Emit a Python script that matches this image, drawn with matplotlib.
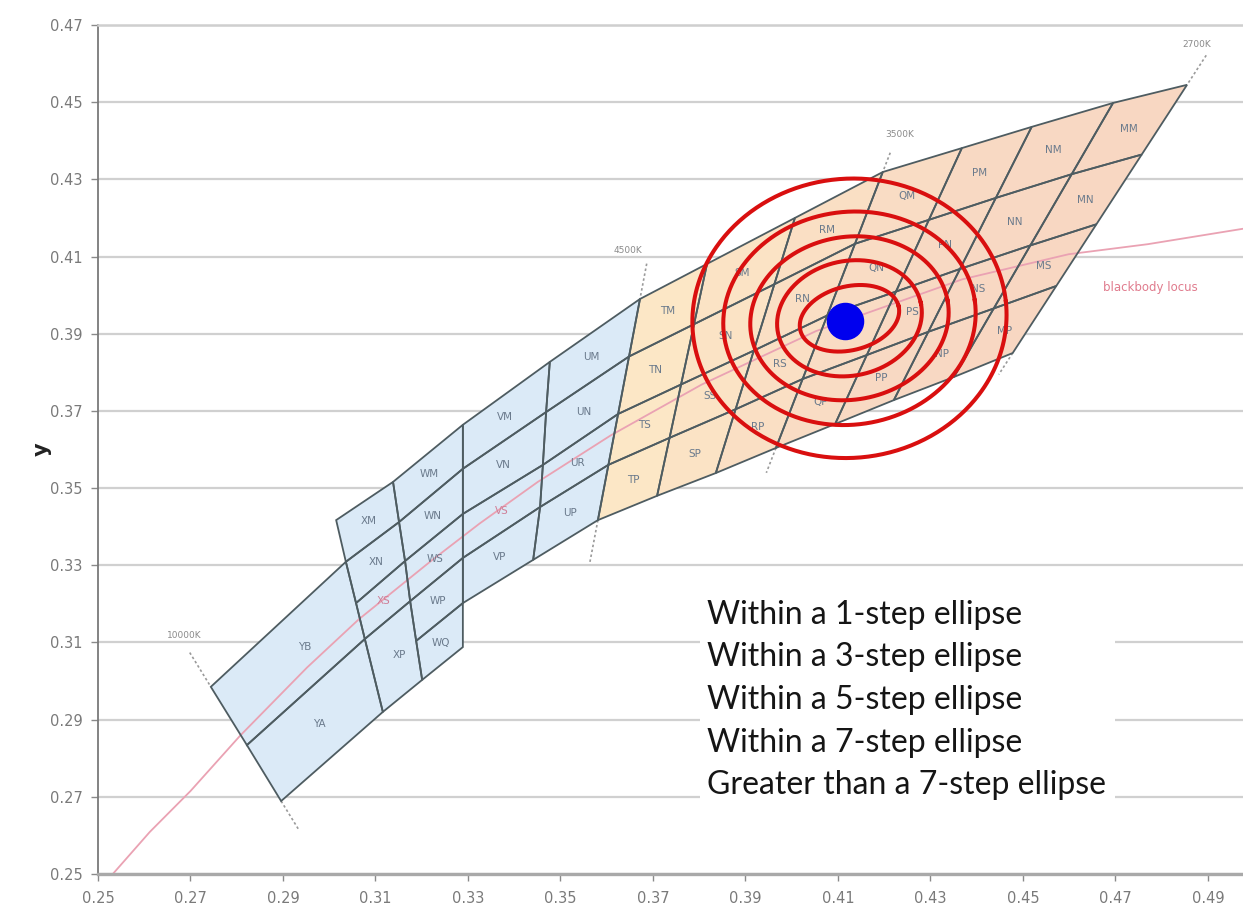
import numpy as np
import matplotlib
matplotlib.use("Agg")
import matplotlib.pyplot as plt
from matplotlib.patches import Polygon, Rectangle

# ------------------------------------------------------------------ axes
x_ticks = [0.25, 0.27, 0.29, 0.31, 0.33, 0.35, 0.37, 0.39, 0.41, 0.43, 0.45, 0.47, 0.49]
y_ticks = [0.25, 0.27, 0.29, 0.31, 0.33, 0.35, 0.37, 0.39, 0.41, 0.43, 0.45, 0.47]
x_range = (0.25, 0.4976)
y_range = (0.25, 0.47)

# ------------------------------------------------------------------ blackbody locus (CIE 1931 x, y)
locus_x = [0.2532, 0.2612, 0.2700, 0.2807, 0.2952, 0.3064, 0.3221, 0.3325,
           0.3451, 0.3608, 0.3805, 0.4053, 0.4369, 0.4599, 0.4770, 0.4976]
locus_y = [0.2500, 0.2609, 0.2715, 0.2858, 0.3035, 0.3160, 0.3312, 0.3408,
           0.3516, 0.3636, 0.3768, 0.3907, 0.4041, 0.4106, 0.4132, 0.4172]

# ------------------------------------------------------------------ cool-white bins
# isotemperature lines, nodes listed from the top (high y) down
line_Y = [(0.2744, 0.2985), (0.2822, 0.2834), (0.2896, 0.2689)]
line_X = [(0.3015, 0.3417), (0.3036, 0.3309), (0.3058, 0.3202), (0.3077, 0.3109), (0.3116, 0.2920)]
line_W = [(0.3138, 0.3516), (0.3151, 0.3412), (0.3164, 0.3311), (0.3175, 0.3207),
          (0.3188, 0.3104), (0.3201, 0.3003)]
line_V = [(0.3289, 0.3664), (0.3289, 0.3550), (0.3289, 0.3433), (0.3289, 0.3319),
          (0.3289, 0.3202), (0.3289, 0.3088)]
line_U = [(0.3477, 0.3827), (0.3469, 0.3697), (0.3462, 0.3560), (0.3456, 0.3451), (0.3441, 0.3314)]

# ------------------------------------------------------------------ warm-white bins
# column boundaries along the upper and lower edge, and the row split fractions
warm_top = [(0.3672, 0.3990), (0.3817, 0.4081), (0.4007, 0.4200), (0.4197, 0.4319),
            (0.4368, 0.4381), (0.4519, 0.4436), (0.4695, 0.4498), (0.4855, 0.4545)]
warm_bottom = [(0.3581, 0.3417), (0.3709, 0.3480), (0.3836, 0.3539), (0.3966, 0.3604),
               (0.4094, 0.3666), (0.4221, 0.3728), (0.4351, 0.3788), (0.4478, 0.3850)]
warm_row_frac = [0.0, 0.26, 0.52, 0.75, 1.0]
warm_cols = ["T", "S", "R", "Q", "P", "N", "M"]
warm_rows = ["M", "N", "S", "P"]

# CCT markers
cct_labels = ["10000K", "4500K", "3500K", "2700K"]

# step ellipses: semi-axes (x units) and tilt in degrees
ellipse_center = (0.4125, 0.3940)
ellipse_a = [0.01094, 0.01578, 0.02156, 0.02737, 0.03401]
ellipse_b = [0.00690, 0.01240, 0.01760, 0.02300, 0.03018]
ellipse_tilt = [14, 12, 10, 8, 6]
target_point = (0.4115, 0.3933)

legend_lines = ["Within a 1-step ellipse", "Within a 3-step ellipse",
                "Within a 5-step ellipse", "Within a 7-step ellipse",
                "Greater than a 7-step ellipse"]

# ------------------------------------------------------------------ figure
W, H = 1243, 916
fig = plt.figure(figsize=(W / 100, H / 100), dpi=100)
ax = fig.add_axes([98 / W, 42 / H, 1145 / W, 849 / H])
ax.set_xlim(*x_range)
ax.set_ylim(*y_range)

ax.set_xticks(x_ticks)
ax.set_yticks(y_ticks)
ax.set_xticklabels([f"{v:.2f}" for v in x_ticks])
ax.set_yticklabels([f"{v:.2f}" for v in y_ticks])
ax.tick_params(axis="both", direction="out", length=5, width=1.0, color="#8a8a8a",
               labelcolor="#7a7a7a", labelsize=10.5)
ax.tick_params(axis="x", pad=7)
ax.tick_params(axis="y", pad=6)
for lab in ax.get_xticklabels() + ax.get_yticklabels():
    lab.set_family("Liberation Sans Narrow")

ax.set_axisbelow(True)
ax.grid(axis="y", color="#d0d0d0", lw=1.6)
ax.grid(axis="x", visible=False)
ax.spines["right"].set_visible(False)
ax.spines["top"].set_color("#cfcfcf")
ax.spines["top"].set_linewidth(1.8)
ax.spines["left"].set_color("#7a7a7a")
ax.spines["left"].set_linewidth(1.3)
ax.spines["bottom"].set_color("#a9a9a9")
ax.spines["bottom"].set_linewidth(2.4)

ax.set_ylabel("y", fontsize=15, fontweight="bold", color="#222222", rotation=90)
ax.yaxis.set_label_coords(-0.040, 0.5)

EDGE = "#4e5c61"
BLUE = "#dbeaf7"
warm_fill = ["#fce7c6", "#fbe3c5", "#fadfc4", "#f9dcc4", "#f8d9c3", "#f8d8c3", "#f8d7c2"]
LABEL = "#6a7a8c"
PINK_LABEL = "#cf7f98"


def cell(verts, face, name, label_color=LABEL):
    verts = np.asarray(verts)
    ax.add_patch(Polygon(verts, closed=True, facecolor=face, edgecolor="none", zorder=2))
    ax.add_patch(Polygon(verts, closed=True, facecolor="none", edgecolor=EDGE,
                         lw=1.3, joinstyle="miter", zorder=3))
    cx, cy = verts.mean(axis=0)
    ax.text(cx, cy, name, fontsize=7.5, color=label_color, ha="center", va="center",
            zorder=4, family="DejaVu Sans")


def warm_node(i, j):
    t = np.array(warm_top[i])
    b = np.array(warm_bottom[i])
    return t + warm_row_frac[j] * (b - t)


# cool-white cells
cool_cells = {
    "YB": [line_Y[0], line_X[1], line_X[2], line_X[3], line_Y[1]],
    "YA": [line_Y[1], line_X[3], line_X[4], line_Y[2]],
    "XM": [line_X[0], line_W[0], line_W[1], line_X[1]],
    "XN": [line_X[1], line_W[1], line_W[2], line_X[2]],
    "XS": [line_X[2], line_W[2], line_W[3], line_X[3]],
    "XP": [line_X[3], line_W[3], line_W[4], line_W[5], line_X[4]],
    "WM": [line_W[0], line_V[0], line_V[1], line_W[1]],
    "WN": [line_W[1], line_V[1], line_V[2], line_W[2]],
    "WS": [line_W[2], line_V[2], line_V[3], line_W[3]],
    "WP": [line_W[3], line_V[3], line_V[4], line_W[4]],
    "WQ": [line_W[4], line_V[4], line_V[5], line_W[5]],
    "VM": [line_V[0], line_U[0], line_U[1], line_V[1]],
    "VN": [line_V[1], line_U[1], line_U[2], line_V[2]],
    "VS": [line_V[2], line_U[2], line_U[3], line_V[3]],
    "VP": [line_V[3], line_U[3], line_U[4], line_V[4]],
}
for j, r in enumerate(["M", "N", "R", "P"]):
    cool_cells["U" + r] = [line_U[j], tuple(warm_node(0, j)),
                           tuple(warm_node(0, j + 1)), line_U[j + 1]]

for name, verts in cool_cells.items():
    cell(verts, BLUE, name, PINK_LABEL if name in ("XS", "VS") else LABEL)

# warm-white cells
for i, c in enumerate(warm_cols):
    for j, r in enumerate(warm_rows):
        verts = [warm_node(i, j), warm_node(i + 1, j), warm_node(i + 1, j + 1), warm_node(i, j + 1)]
        cell(verts, warm_fill[i], c + r)

# blackbody locus
ax.plot(locus_x, locus_y, color="#eaa2b3", lw=1.3, zorder=2.5)
ax.text(0.4775, 0.4021, "blackbody locus", color="#e07b8d", fontsize=8.5,
        ha="center", va="center", zorder=4)

# dotted CCT extensions and their labels
cct_lines = [
    (line_Y[0], line_Y[-1], 0.30, 0.25, (-19, 37)),
    (warm_top[0], warm_bottom[0], 0.16, 0.20, (-9, 35)),
    (warm_top[3], warm_bottom[3], 0.07, 0.09, (12, 27)),
    (warm_top[7], warm_bottom[7], 0.11, 0.08, (7, 29)),
]
for text, (p_top, p_bot, ext_t, ext_b, off) in zip(cct_labels, cct_lines):
    p_top = np.array(p_top)
    p_bot = np.array(p_bot)
    d = p_bot - p_top
    a0 = p_top - ext_t * d
    b1 = p_bot + ext_b * d
    ax.plot([a0[0], p_top[0]], [a0[1], p_top[1]], color="#9a9a9a", lw=1.2,
            ls=(0, (1.5, 1.5)), zorder=1.5)
    ax.plot([p_bot[0], b1[0]], [p_bot[1], b1[1]], color="#9a9a9a", lw=1.2,
            ls=(0, (1.5, 1.5)), zorder=1.5)
    ax.annotate(text, xy=p_top, xytext=off, textcoords="offset points",
                fontsize=6.5, color="#8a8a8a", ha="center", va="center", zorder=4)

# ellipses drawn in a display-isotropic frame
p0 = ax.transData.transform((0, 0))
p1 = ax.transData.transform((1, 1))
sx, sy = p1[0] - p0[0], p1[1] - p0[1]
t = np.linspace(0, 2 * np.pi, 400)
for a, b, th in zip(ellipse_a, ellipse_b, ellipse_tilt):
    th = np.deg2rad(th)
    u = a * np.cos(t) * np.cos(th) - b * np.sin(t) * np.sin(th)
    v = a * np.cos(t) * np.sin(th) + b * np.sin(t) * np.cos(th)
    ax.plot(ellipse_center[0] + u, ellipse_center[1] + v * sx / sy,
            color="#d90f0f", lw=2.9, zorder=5)

ax.plot([target_point[0]], [target_point[1]], "o", ms=26, color="#0000ee",
        mec="#0000ee", zorder=6)

# white panel with the step legend
ax.add_patch(Rectangle((0.3802, 0.2661), 0.4700 - 0.3802, 0.3236 - 0.2661,
                       facecolor="white", edgecolor="none", zorder=1))
for k, line in enumerate(legend_lines):
    fig.text(707 / W, 1 - (615 + 42.5 * k) / H, line, fontsize=23, family="Lato",
             color="#151515", ha="left", va="center")

fig.savefig("out.png", dpi=100)
